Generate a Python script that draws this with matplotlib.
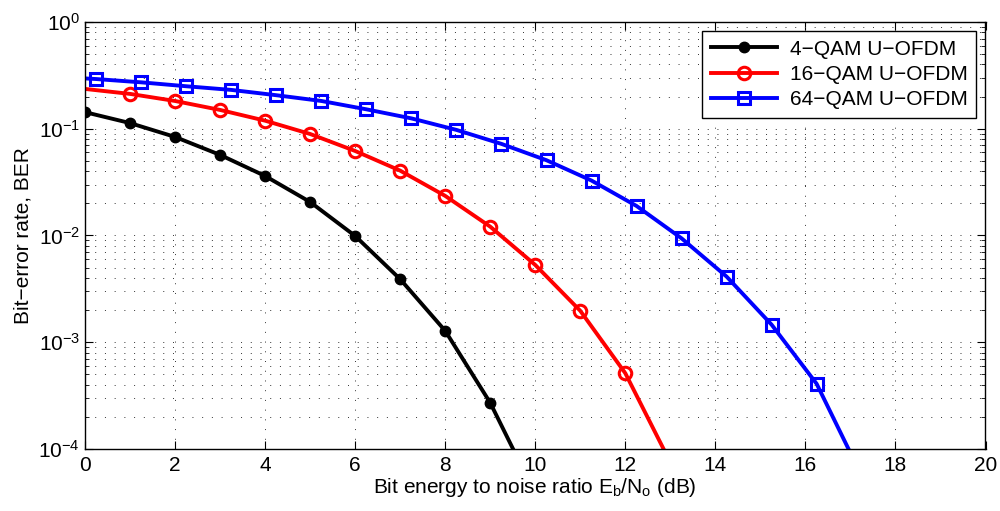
import matplotlib
matplotlib.use("Agg")
import matplotlib.pyplot as plt
import numpy as np

plt.rcParams["font.family"] = ["Liberation Sans", "DejaVu Sans"]
plt.rcParams["mathtext.default"] = "regular"

# 4-QAM U-OFDM (markers on every point)
qam4_x = [0, 1, 2, 3, 4, 5, 6, 7, 8, 9, 10]
qam4_ber = [0.143, 0.113, 0.0838, 0.0569, 0.0361, 0.0206, 0.0099, 0.0039, 0.00128, 0.000271, 3.8e-5]

# 16-QAM U-OFDM (first point has no marker)
qam16_x = [0, 1, 2, 3, 4, 5, 6, 7, 8, 9, 10, 11, 12, 13]
qam16_ber = [0.236, 0.212, 0.182, 0.150, 0.119, 0.0893, 0.0619, 0.0405, 0.0235, 0.0121,
             0.0053, 0.00197, 0.000513, 7.5e-5]

# 64-QAM U-OFDM (first point has no marker)
qam64_x = [0, 0.25, 1.25, 2.25, 3.25, 4.25, 5.25, 6.25, 7.25, 8.25, 9.25, 10.25,
           11.25, 12.25, 13.25, 14.25, 15.25, 16.25, 17.25]
qam64_ber = [0.296, 0.292, 0.272, 0.250, 0.231, 0.206, 0.182, 0.152, 0.125, 0.0975,
             0.0721, 0.0507, 0.0327, 0.0189, 0.0094, 0.00412, 0.00146, 0.000408, 5.6e-5]

labels = ["4\u2212QAM U\u2212OFDM", "16\u2212QAM U\u2212OFDM", "64\u2212QAM U\u2212OFDM"]

FS = 15

fig = plt.figure(figsize=(10, 5.11), dpi=100)
ax = fig.add_axes([0.085, 0.1213, 0.9005, 0.8357])

ax.semilogy(qam4_x, qam4_ber, color="k", lw=2.8, marker="o", ms=7.5,
            mfc="k", mec="k", label=labels[0])
ax.semilogy(qam16_x, qam16_ber, color="#ff0000", lw=2.8, marker="o", ms=9,
            mfc="none", mec="#ff0000", mew=2.2, markevery=list(range(1, len(qam16_x))),
            label=labels[1])
ax.semilogy(qam64_x, qam64_ber, color="#0000ff", lw=2.8, marker="s", ms=8,
            mfc="none", mec="#0000ff", mew=2.2, markevery=list(range(1, len(qam64_x))),
            label=labels[2])

ax.set_xlim(0, 20)
ax.set_ylim(1e-4, 1)
ax.set_xticks(np.arange(0, 21, 2))

# MATLAB style grid
grid_style = dict(color="0.2", linestyle=(0, (1, 9)), linewidth=0.7)
ax.grid(which="major", axis="both", **grid_style)
ax.grid(which="minor", axis="y", **grid_style)

ax.tick_params(which="both", direction="in", top=True, right=True, labelsize=FS)
ax.tick_params(which="major", length=6)
ax.tick_params(which="minor", length=3)
ax.tick_params(axis="x", pad=5)
for spine in ax.spines.values():
    spine.set_linewidth(1.0)

ax.set_xlabel(r"Bit energy to noise ratio E$_{b}$/N$_{o}$ (dB)", fontsize=FS, labelpad=1)
ax.set_ylabel("Bit\u2212error rate, BER", fontsize=FS, labelpad=4)

leg = ax.legend(loc="upper right", fontsize=FS, fancybox=False, edgecolor="k",
                framealpha=1, borderaxespad=0.45, handlelength=3.2, labelspacing=0.3,
                borderpad=0.4, handletextpad=0.6)
leg.get_frame().set_linewidth(1.0)

plt.savefig("out.png", dpi=100)
